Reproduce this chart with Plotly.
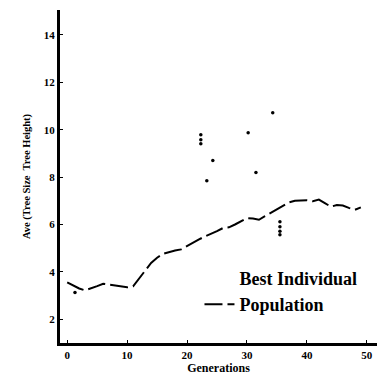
import plotly.graph_objects as go

# Population average (read per generation)
pop_gen = list(range(0, 50))
pop_val = [3.56, 3.42, 3.30, 3.22, 3.30, 3.40, 3.50, 3.47, 3.42, 3.38,
           3.35, 3.39, 3.70, 4.05, 4.38, 4.60, 4.76, 4.84, 4.90, 4.95,
           5.10, 5.25, 5.37, 5.50, 5.60, 5.72, 5.85, 5.88, 6.00, 6.15,
           6.27, 6.25, 6.20, 6.35, 6.50, 6.63, 6.80, 6.93, 7.00, 7.02,
           7.02, 6.98, 7.05, 6.90, 6.75, 6.82, 6.80, 6.70, 6.62, 6.72]

# Best individual points
best_gen = [1.3, 22.3, 22.3, 22.3, 23.3, 24.3, 30.2, 31.5, 34.3, 35.5, 35.5, 35.5, 35.5]
best_val = [3.13, 9.79, 9.58, 9.41, 7.85, 8.70, 9.87, 8.19, 10.72, 6.12, 5.90, 5.72, 5.57]

x_ticks = [0, 10, 20, 30, 40, 50]
y_ticks = [2, 4, 6, 8, 10, 12, 14]

font_family = "Liberation Serif"

fig = go.Figure()
fig.add_trace(go.Scatter(
    x=best_gen, y=best_val, mode="markers", showlegend=False,
    legendgroup="best",
    marker=dict(color="black", size=3.5, symbol="circle"),
))
# legend-only entry (no visible symbol, as in the reference)
fig.add_trace(go.Scatter(
    x=[None], y=[None], mode="markers", name="<b>Best Individual</b>",
    legendgroup="best", marker=dict(color="rgba(0,0,0,0)", size=1),
))
fig.add_trace(go.Scatter(
    x=pop_gen, y=pop_val, mode="lines", name="<b>Population</b>",
    line=dict(color="black", width=2, dash="18px,5px"),
))

fig.update_layout(
    width=380, height=379,
    margin=dict(l=60, r=3, t=10, b=36),
    paper_bgcolor="white", plot_bgcolor="white",
    font=dict(family=font_family, color="black"),
    showlegend=True,
    legend=dict(x=0.44, y=0.25, xanchor="left", yanchor="top",
                font=dict(size=18, family=font_family, color="black"),
                bgcolor="rgba(0,0,0,0)", tracegroupgap=0, itemwidth=30),
    xaxis=dict(range=[-1.2, 51.7], tickvals=x_ticks,
               ticktext=[f"<b>{t}</b>" for t in x_ticks],
               showgrid=False, zeroline=False, showline=True,
               linecolor="black", linewidth=3, ticks="inside", ticklen=3,
               tickcolor="black",
               tickfont=dict(size=11, family=font_family),
               title=dict(text="<b>Generations</b>", font=dict(size=12, family=font_family),
                          standoff=2)),
    yaxis=dict(range=[1, 15.05], tickvals=y_ticks,
               ticktext=[f"<b>{t}</b>" for t in y_ticks],
               showgrid=False, zeroline=False, showline=True,
               linecolor="black", linewidth=3, ticks="inside", ticklen=3,
               tickcolor="black",
               tickfont=dict(size=11, family=font_family),
               title=dict(text="<b>Ave (Tree Size  Tree Height)</b>",
                          font=dict(size=10.5, family=font_family), standoff=12)),
)

fig.write_html("out.html")
